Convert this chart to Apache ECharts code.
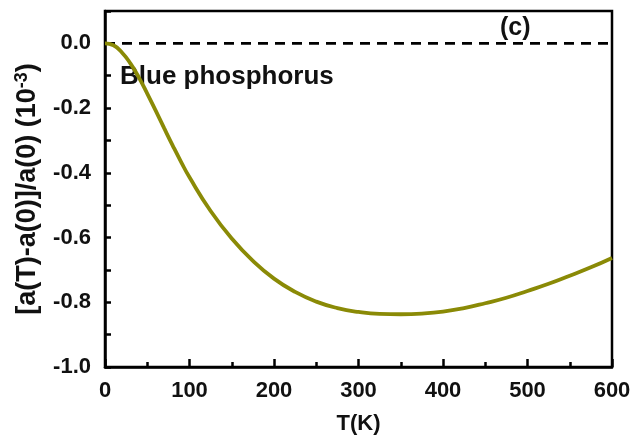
<!DOCTYPE html>
<html>
<head>
<meta charset="utf-8">
<script src="https://cdn.jsdelivr.net/npm/echarts@6/dist/echarts.min.js"></script>
<style>
html,body{margin:0;padding:0;background:#fff;}
#c{width:634px;height:440px;}
</style>
</head>
<body>
<div id="c"></div>
<script>
const temps = [0,10,20,30,40,50,60,70,80,90,100,125,150,175,200,225,250,275,300,325,350,375,400,425,450,475,500,525,550,575,600];
const strain = [0,-0.006,-0.028,-0.062,-0.105,-0.155,-0.208,-0.262,-0.315,-0.366,-0.414,-0.518,-0.603,-0.672,-0.727,-0.768,-0.798,-0.818,-0.830,-0.836,-0.837,-0.835,-0.829,-0.818,-0.803,-0.786,-0.765,-0.743,-0.718,-0.692,-0.663];
const refT = [0,600];
const refV = [0,0];
const xTicks = [0,100,200,300,400,500,600];
const yTicks = [-1.0,-0.8,-0.6,-0.4,-0.2,0.0];

const chart = echarts.init(document.getElementById('c'));
const font = 'Liberation Sans, Arial, sans-serif';
chart.setOption({
  animation:false,
  backgroundColor:'#fff',
  grid:{left:105,right:22,top:11,bottom:70,show:true,borderColor:'#000',borderWidth:2.5,backgroundColor:'transparent'},
  xAxis:{
    type:'value',min:xTicks[0],max:xTicks[xTicks.length-1],interval:100,
    axisLine:{show:true,onZero:false,lineStyle:{color:'#000',width:2.5}},
    axisTick:{show:true,inside:true,length:8,lineStyle:{color:'#000',width:2.5}},
    minorTick:{show:true,splitNumber:2,length:5,lineStyle:{color:'#000',width:2.5}},
    splitLine:{show:false},
    axisLabel:{color:'#111',fontSize:22,fontWeight:'bold',fontFamily:font,margin:13,formatter:v=>String(v)},
    name:'T(K)',nameLocation:'middle',nameGap:46,
    nameTextStyle:{color:'#111',fontSize:22,fontWeight:'bold',fontFamily:font}
  },
  yAxis:{
    type:'value',min:yTicks[0],max:0.1,interval:0.2,
    axisLine:{show:true,onZero:false,lineStyle:{color:'#000',width:2.5}},
    axisTick:{show:true,inside:true,length:6,lineStyle:{color:'#000',width:2.5}},
    minorTick:{show:true,splitNumber:2,length:6,lineStyle:{color:'#000',width:2.5}},
    splitLine:{show:false},
    axisLabel:{color:'#111',fontSize:22,fontWeight:'bold',fontFamily:font,margin:14,
      formatter:v=> (Math.abs(v-0.1)<1e-6)?'':v.toFixed(1)},
    name:'{m|[a(T)-a(0)]/a(0) (10}{s|-3}{m|)}',nameLocation:'middle',nameGap:62,nameRotate:90,
    nameTextStyle:{color:'#111',fontFamily:font,
      rich:{m:{fontSize:27,fontWeight:'bold',fontFamily:font,color:'#111'},
            s:{fontSize:18,fontWeight:'bold',fontFamily:font,color:'#111',verticalAlign:'top',padding:[0,0,12,0]}}}
  },
  series:[
    {type:'line',data:refT.map((t,i)=>[t,refV[i]]),symbol:'none',
     lineStyle:{color:'#000',width:2.6,type:[10,7]},z:1},
    {type:'line',data:temps.map((t,i)=>[t,strain[i]]),symbol:'none',smooth:true,
     lineStyle:{color:'#8a8a06',width:3.8},z:2}
  ],
  graphic:[
    {type:'text',left:120,top:64,style:{text:'Blue phosphorus',fill:'#111',font:'bold 26px Liberation Sans, Arial, sans-serif'}},
    {type:'text',left:500,top:16,style:{text:'(c)',fill:'#111',font:'bold 25px Liberation Sans, Arial, sans-serif'}}
  ]
});
</script>
</body>
</html>
